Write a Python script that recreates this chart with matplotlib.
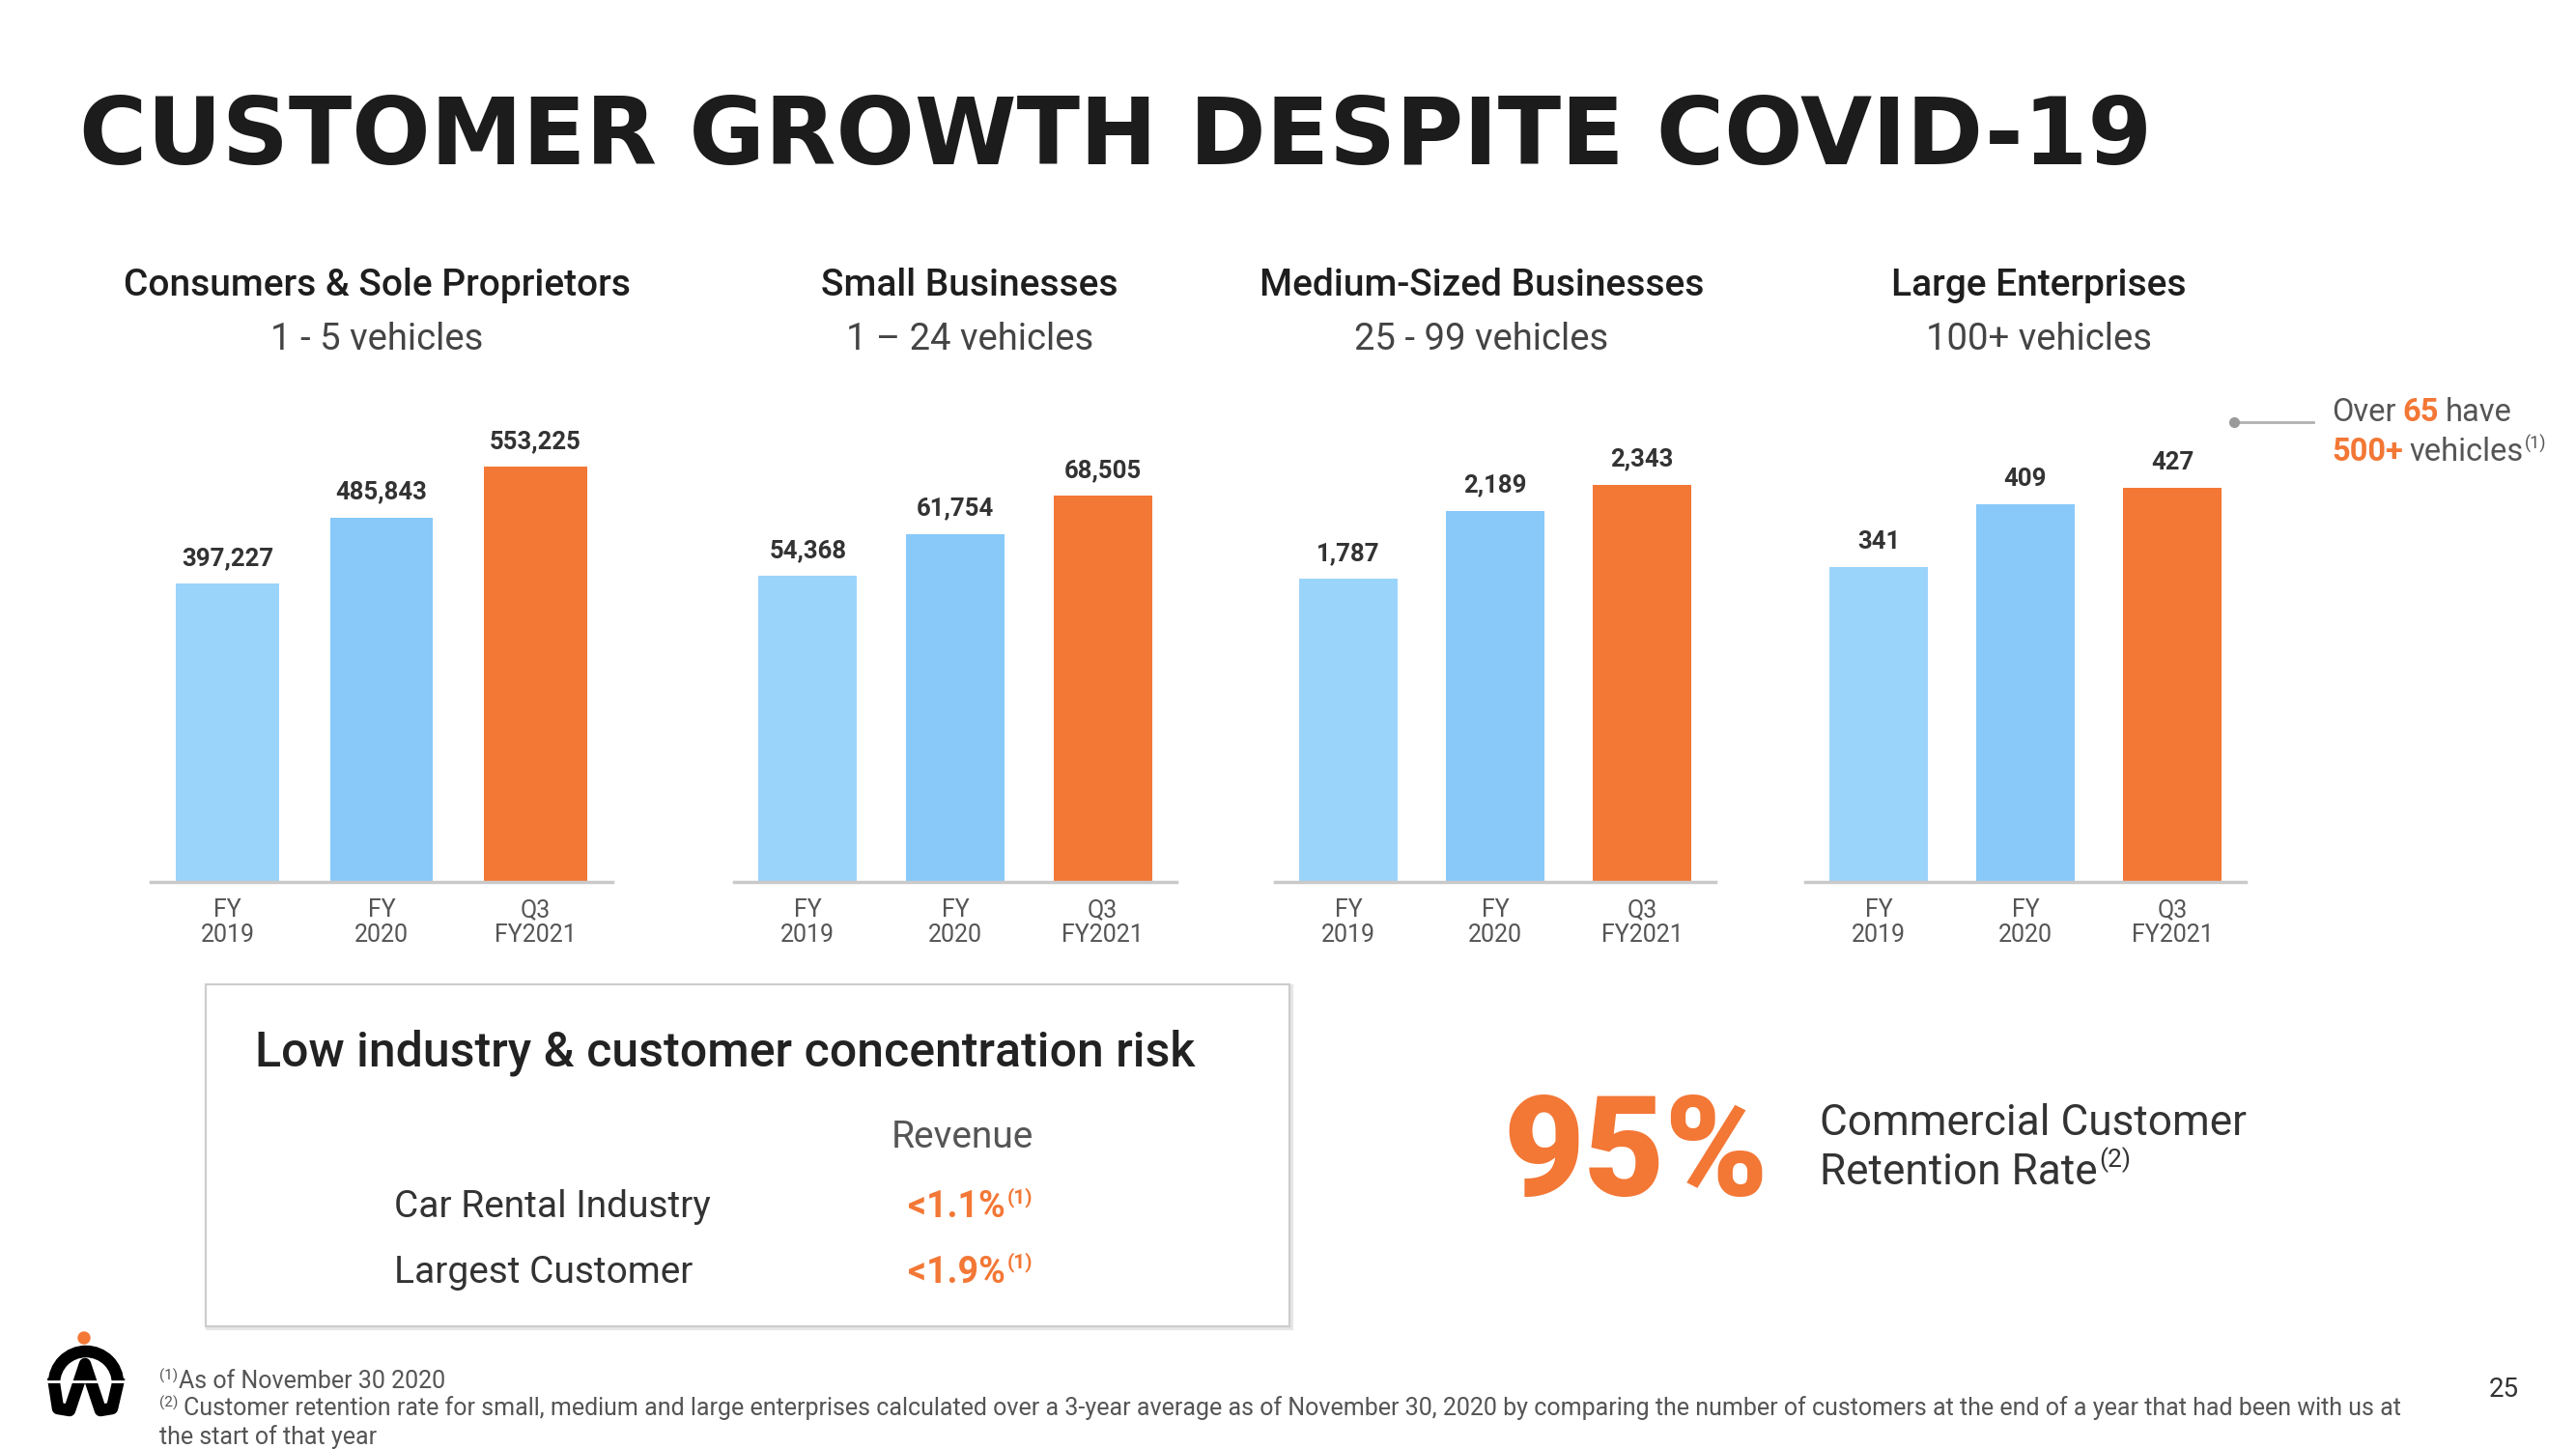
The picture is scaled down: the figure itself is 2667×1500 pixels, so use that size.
import matplotlib
matplotlib.use('Agg')
import matplotlib.pyplot as plt
from matplotlib.patches import Rectangle, Circle, Arc

plt.rcParams['font.family'] = ['Roboto', 'DejaVu Sans']

# ---- data ----
periods = ['FY\n2019', 'FY\n2020', 'Q3\nFY2021']
segments = ['Consumers & Sole Proprietors', 'Small Businesses',
            'Medium-Sized Businesses', 'Large Enterprises']
vehicle_ranges = ['1 - 5 vehicles', '1 \u2013 24 vehicles', '25 - 99 vehicles', '100+ vehicles']
consumers = [397227, 485843, 553225]
small_biz = [54368, 61754, 68505]
medium_biz = [1787, 2189, 2343]
large_ent = [341, 409, 427]
customers = [consumers, small_biz, medium_biz, large_ent]

risk_rows = ['Car Rental Industry', 'Largest Customer']
risk_revenue = ['<1.1%', '<1.9%']
retention = '95%'

# ---- layout (pixels of a 2667x1500 page) ----
W, H = 2667, 1500
bar_colors = ['#9bd4fb', '#88c9fa', '#f37735']
orange = '#f37735'
panel_left = [156, 760, 1320, 1869]
panel_width = [478, 458, 456, 456]
header_x = [390, 1004, 1534, 2111]
ylim_tops = [660400, 87900, 2921, 537]
base_y, top_y = 913, 400

fig = plt.figure(figsize=(W / 100, H / 100), dpi=100)
bg = fig.add_axes([0, 0, 1, 1])
bg.set_xlim(0, W)
bg.set_ylim(H, 0)
bg.axis('off')
rend = fig.canvas.get_renderer()


def runs(x, y, parts, **common):
    # draw text pieces one after another on the page axes
    for gap, txt, kw in parts:
        x += gap
        props = dict(common)
        props.update(kw)
        dy = props.pop('dy', 0)
        t = bg.text(x, y + dy, txt, ha='left', **props)
        x += t.get_window_extent(renderer=rend).width
    return x


# title
title = bg.text(82, 170, 'CUSTOMER GROWTH DESPITE COVID-19', family='DejaVu Sans',
                fontweight='bold', fontsize=66, color='#1c1c1c', va='baseline', ha='left')
tw = title.get_window_extent(renderer=rend).width
title.set_fontsize(66 * (2228 - 82) / tw)

# bar panels
for i in range(4):
    ax = fig.add_axes([panel_left[i] / W, (H - base_y) / H,
                       panel_width[i] / W, (base_y - top_y) / H])
    vals = customers[i]
    ax.bar(range(3), vals, width=0.67, color=bar_colors)
    ax.set_xlim(-0.5, 2.5)
    ax.set_ylim(0, ylim_tops[i])
    for s in ['top', 'left', 'right']:
        ax.spines[s].set_visible(False)
    ax.spines['bottom'].set_color('#c9c9c9')
    ax.spines['bottom'].set_linewidth(2.5)
    ax.set_yticks([])
    ax.set_xticks(range(3), periods)
    ax.tick_params(axis='x', length=0, pad=12, labelsize=18, labelcolor='#555555')
    for lbl in ax.get_xticklabels():
        lbl.set_linespacing(1.1)
    for j, v in enumerate(vals):
        ax.annotate(f'{v:,}', (j, v), xytext=(0, 10), textcoords='offset points',
                    ha='center', va='bottom', fontsize=18.5, fontweight='bold', color='#333333')
    ax.patch.set_alpha(0)

    bg.text(header_x[i], 296, segments[i], ha='center', va='center',
            fontsize=28, fontweight='medium', color='#1e1e1e')
    bg.text(header_x[i], 351, vehicle_ranges[i], ha='center', va='center',
            fontsize=27.5, color='#444444')

# callout for large enterprises
bg.plot([2313, 2395], [437, 437], color='#b0b0b0', lw=2)
bg.plot([2313], [437], 'o', ms=7, color='#9a9a9a')
runs(2414, 427, [(0, 'Over', {'color': '#555555'}),
                 (7, '65', {'color': orange, 'fontweight': 'bold'}),
                 (7, 'have', {'color': '#555555'})],
     fontsize=23.5, va='center')
runs(2414, 468, [(0, '500+', {'color': orange, 'fontweight': 'bold'}),
                 (7, 'vehicles', {'color': '#555555'}),
                 (1, '(1)', {'color': '#555555', 'fontsize': 13, 'dy': -9})],
     fontsize=23.5, va='center')

# concentration box
bg.add_patch(Rectangle((215, 1021), 1122, 354, facecolor='none', edgecolor='#e6e6e6', lw=3))
bg.add_patch(Rectangle((213, 1019), 1122, 354, facecolor='white', edgecolor='#cdcdcd', lw=1.6))
bg.text(264, 1090, 'Low industry & customer concentration risk', ha='left', va='center',
        fontsize=36, fontweight='medium', color='#222222')
bg.text(996, 1177, 'Revenue', ha='center', va='center', fontsize=28, color='#555555')
for k, (row, rev) in enumerate(zip(risk_rows, risk_revenue)):
    y = 1250 + k * 67
    bg.text(408, y, row, ha='left', va='center', fontsize=28, color='#333333')
    bg.text(1041, y, rev, ha='right', va='center', fontsize=27, fontweight='bold', color=orange)
    bg.text(1043, y - 10, '(1)', ha='left', va='center', fontsize=15, fontweight='bold',
            color=orange)

# retention stat
bg.text(1556, 1238, retention, ha='left', va='baseline', fontsize=104,
        fontweight='black', color=orange)
bg.text(1884, 1163, 'Commercial Customer', ha='left', va='center', fontsize=31.8,
        color='#333333')
runs(1884, 1214, [(0, 'Retention Rate', {}),
                  (2, '(2)', {'fontsize': 19, 'dy': -13})],
     fontsize=31.8, va='center', color='#333333')

# footnotes
foot = dict(fontsize=18, va='center', color='#555555')
runs(165, 1430, [(0, '(1)', {'fontsize': 11, 'dy': -6}), (1, 'As of November 30 2020', {})], **foot)
runs(165, 1458, [(0, '(2)', {'fontsize': 11, 'dy': -6}),
                 (6, 'Customer retention rate for small, medium and large enterprises calculated '
                     'over a 3-year average as of November 30, 2020 by comparing the number of '
                     'customers at the end of a year that had been with us at', {})], **foot)
bg.text(165, 1488, 'the start of that year', ha='left', **foot)
bg.text(2592, 1439, '25', ha='center', va='center', fontsize=20, color='#333333')

# logo
bg.add_patch(Circle((87, 1385), 6, color=orange))
bg.add_patch(Arc((89, 1432), 66, 66, theta1=180, theta2=360, color='black', lw=9))
bg.plot([56, 60, 72, 88, 104, 116, 122], [1432, 1458, 1460, 1412, 1460, 1458, 1432],
        color='black', lw=9, solid_joinstyle='round')
bg.plot([48, 130], [1430, 1430], color='white', lw=2)

fig.savefig('out.png', dpi=100, facecolor='white')
